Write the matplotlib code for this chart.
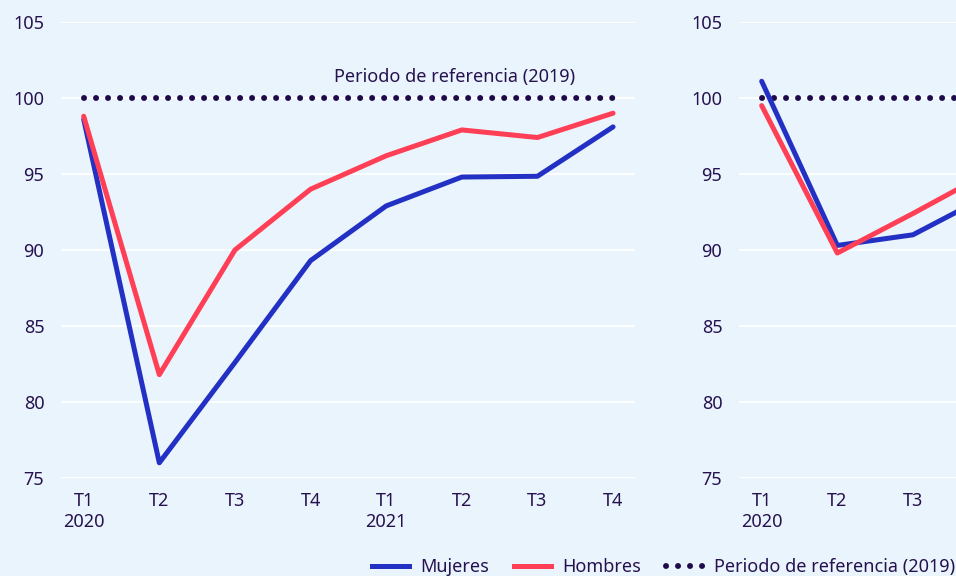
import matplotlib

matplotlib.use("Agg")
import matplotlib.pyplot as plt
from matplotlib.lines import Line2D

# quarters on the x axis
quarters = ["T1", "T2", "T3", "T4", "T1", "T2", "T3", "T4"]
years = ["2020", "", "", "", "2021", "", "", ""]
yticks = [75, 80, 85, 90, 95, 100, 105]

# left panel
mujeres_left = [98.6, 76.0, 82.6, 89.3, 92.9, 94.8, 94.85, 98.1]
hombres_left = [98.8, 81.8, 90.0, 94.0, 96.2, 97.9, 97.4, 99.0]

# right panel (only the first quarters are inside the picture)
mujeres_right = [101.1, 90.3, 91.0, 93.6]
hombres_right = [99.5, 89.8, 92.4, 95.1]
right_visible = 3  # tick labels shown before the picture edge

reference = 100
ref_label = "Periodo de referencia (2019)"

BG = "#eaf4fc"
TEXT = "#26124f"
BLUE = "#2330c4"
RED = "#ff3f56"
DOTS = "#1e0a4a"
FS = 13

plt.rcParams["font.family"] = ["Noto Sans", "DejaVu Sans"]

fig = plt.figure(figsize=(9.56, 5.76), dpi=100)
fig.patch.set_facecolor(BG)

W, H = 956, 576
ax_w = 574 / W
ax_b = (H - 478) / H
ax_h = (478 - 22) / H
ax1 = fig.add_axes([61 / W, ax_b, ax_w, ax_h])
ax2 = fig.add_axes([739 / W, ax_b, ax_w, ax_h])

dot_style = (0, (0.01, 2.0))
labels = [f"{q}\n{y}" if y else q for q, y in zip(quarters, years)]

for ax, muj, hom in [(ax1, mujeres_left, hombres_left), (ax2, mujeres_right, hombres_right)]:
    ax.set_facecolor(BG)
    ax.set_xlim(-0.30, 7.29)
    ax.set_ylim(75, 105)
    ax.set_yticks(yticks)
    n_ticks = len(quarters) if ax is ax1 else right_visible
    ax.set_xticks(range(n_ticks))
    ax.set_xticklabels(labels[:n_ticks], linespacing=1.2)
    ax.tick_params(length=0, labelsize=FS, colors=TEXT)
    ax.tick_params(axis="y", pad=12)
    ax.tick_params(axis="x", pad=10)
    ax.grid(axis="y", color="white", linewidth=1.4)
    ax.set_axisbelow(True)
    for s in ax.spines.values():
        s.set_visible(False)
    xs = range(len(muj))
    ax.plot([0, len(quarters) - 1], [reference, reference], color=DOTS, linewidth=4.3,
            linestyle=dot_style, dash_capstyle="round", clip_on=False)
    ax.plot(xs, muj, color=BLUE, linewidth=3.6, solid_capstyle="round",
            solid_joinstyle="round", clip_on=False)
    ax.plot(xs, hom, color=RED, linewidth=3.6, solid_capstyle="round",
            solid_joinstyle="round", clip_on=False)

ax1.text(4.9, 101.4, ref_label, ha="center", va="center", fontsize=FS, color=TEXT)

handles = [
    Line2D([], [], color=BLUE, linewidth=3.6),
    Line2D([], [], color=RED, linewidth=3.6),
    Line2D([], [], color=DOTS, linewidth=4.3, linestyle=dot_style, dash_capstyle="round"),
]
fig.legend(handles, ["Mujeres", "Hombres", ref_label], loc="center left",
           bbox_to_anchor=(372 / W, 1 - 567 / H), ncol=3, frameon=False,
           fontsize=FS, labelcolor=TEXT, handlelength=2.05, handletextpad=0.6,
           columnspacing=1.4, borderpad=0, borderaxespad=0)

fig.savefig("out.png", dpi=100, facecolor=BG)
